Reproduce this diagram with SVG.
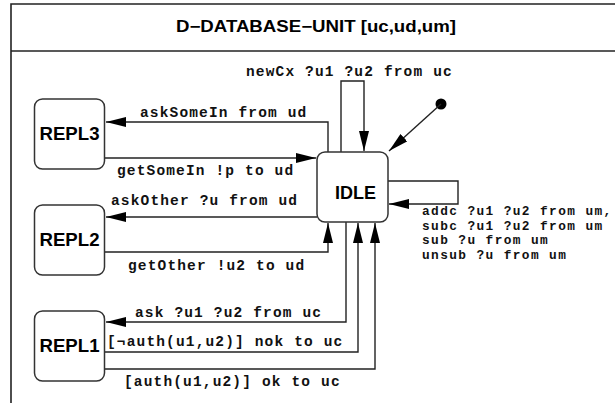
<svg xmlns="http://www.w3.org/2000/svg" width="615" height="403" viewBox="0 0 615 403">
<defs>
<style>
.frame{fill:none;stroke:#222;stroke-width:1.6}
.node{fill:#fff;stroke:#333;stroke-width:1.5}
.nl{font-family:"Liberation Sans",Arial,sans-serif;font-weight:bold;fill:#000;text-anchor:middle}
.title{font-family:"Liberation Sans",Arial,sans-serif;font-weight:bold;font-size:16px;fill:#000}
.lbl{font-family:"Liberation Mono","Courier New",monospace;font-weight:bold;font-size:14.5px;letter-spacing:1.15px;fill:#111}
.lbl2{font-family:"Liberation Mono","Courier New",monospace;font-weight:bold;font-size:12.8px;letter-spacing:1.4px;fill:#111}
.edge{fill:none;stroke:#222;stroke-width:1.4}
</style>
<marker id="ah" markerUnits="userSpaceOnUse" markerWidth="21" markerHeight="11" refX="20" refY="5" orient="auto">
<path d="M0,0 L20,5 L0,10 z" fill="#000"/>
</marker>
</defs>
<rect x="0" y="0" width="615" height="403" fill="#fff"/>
<g id="frame">
<path class="frame" d="M616,4 H11 V404"/>
<line class="frame" x1="11" y1="51" x2="616" y2="51"/>
<text class="title" x="176" y="32" textLength="280" lengthAdjust="spacingAndGlyphs">D−DATABASE−UNIT [uc,ud,um]</text>
</g>
<g id="connectors">
<path class="edge" d="M341,152 V81 H364 V151" marker-end="url(#ah)"/>
<circle cx="441" cy="104" r="5.5" fill="#000"/>
<line class="edge" x1="441" y1="104" x2="389" y2="151" marker-end="url(#ah)"/>
<path class="edge" d="M328,152 V122 H106" marker-end="url(#ah)"/>
<path class="edge" d="M105,158 H316" marker-end="url(#ah)"/>
<path class="edge" d="M317,217 H106" marker-end="url(#ah)"/>
<path class="edge" d="M105,252 H328 V223" marker-end="url(#ah)"/>
<path class="edge" d="M346,222 V322 H106" marker-end="url(#ah)"/>
<path class="edge" d="M105,352 H358 V223" marker-end="url(#ah)"/>
<path class="edge" d="M105,369 H375 V223" marker-end="url(#ah)"/>
<path class="edge" d="M388,181 H458 V204 H389" marker-end="url(#ah)"/>
<text class="lbl" x="246" y="76">newCx ?u1 ?u2 from uc</text>
<text class="lbl" x="140" y="117">askSomeIn from ud</text>
<text class="lbl" x="117" y="175">getSomeIn !p to ud</text>
<text class="lbl" x="111" y="205">askOther ?u from ud</text>
<text class="lbl" x="128" y="270">getOther !u2 to ud</text>
<text class="lbl" x="135" y="317">ask ?u1 ?u2 from uc</text>
<text class="lbl" x="107" y="346">[¬auth(u1,u2)] nok to uc</text>
<text class="lbl" x="124" y="386">[auth(u1,u2)] ok to uc</text>
<text class="lbl2" x="422" y="215">addc ?u1 ?u2 from um,</text>
<text class="lbl2" x="422" y="229.5">subc ?u1 ?u2 from um</text>
<text class="lbl2" x="422" y="244">sub ?u from um</text>
<text class="lbl2" x="422" y="258.5">unsub ?u from um</text>
</g>
<g id="REPL3">
<rect class="node" x="34.5" y="99" width="70" height="70" rx="8"/>
<text class="nl" x="69.5" y="140" font-size="19" textLength="60" lengthAdjust="spacingAndGlyphs">REPL3</text>
</g>
<g id="REPL2">
<rect class="node" x="34.5" y="205" width="70" height="70" rx="8"/>
<text class="nl" x="69.5" y="246" font-size="19" textLength="60" lengthAdjust="spacingAndGlyphs">REPL2</text>
</g>
<g id="REPL1">
<rect class="node" x="34.5" y="311" width="70" height="70" rx="8"/>
<text class="nl" x="69.5" y="352" font-size="19" textLength="60" lengthAdjust="spacingAndGlyphs">REPL1</text>
</g>
<g id="IDLE">
<rect class="node" x="317" y="152" width="71" height="70" rx="8"/>
<text class="nl" x="355.5" y="199" font-size="18">IDLE</text>
</g>
</svg>
